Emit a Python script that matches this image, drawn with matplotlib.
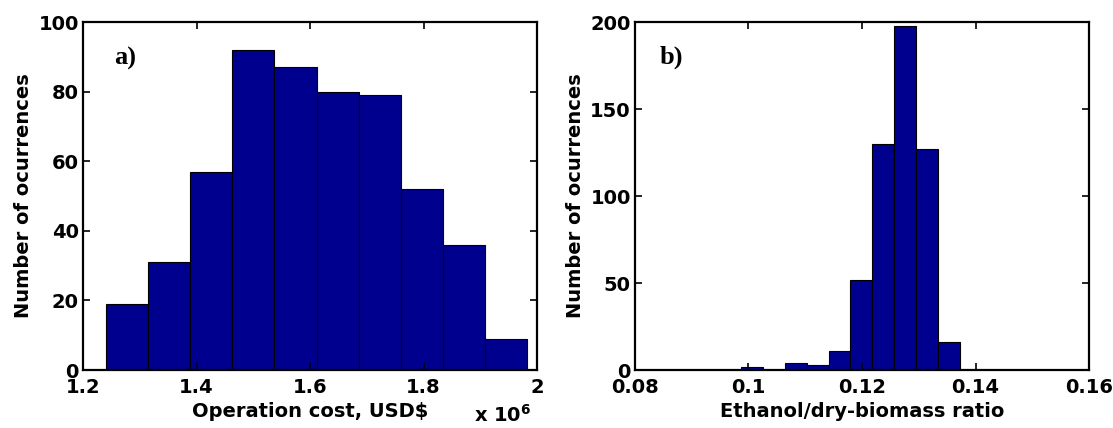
import numpy as np
import matplotlib
matplotlib.use("Agg")
import matplotlib.pyplot as plt

# a) operation cost histogram (x in units of 1e6 USD$)
cost_lo, cost_hi = 1.2405, 1.9825
cost_counts = [19, 31, 57, 92, 87, 80, 79, 52, 36, 9]

# b) ethanol / dry-biomass ratio histogram
ratio_lo, ratio_hi = 0.0987, 0.1372
ratio_counts = [2, 0, 4, 3, 11, 52, 130, 198, 127, 16]

plt.rcParams['font.family'] = ['DejaVu Sans']
plt.rcParams['font.weight'] = 'bold'
bar_color = '#00008F'
fs = 14

fig = plt.figure(figsize=(11.13, 4.28), dpi=100)
ax1 = fig.add_axes([0.0746, 0.1355, 0.408, 0.813])
ax2 = fig.add_axes([0.5705, 0.1355, 0.408, 0.813])


def draw_hist(ax, lo, hi, counts):
    edges = np.linspace(lo, hi, len(counts) + 1)
    ax.bar(edges[:-1], counts, width=np.diff(edges), align='edge',
           color=bar_color, edgecolor='black', linewidth=0.8)
    ax.tick_params(direction='in', top=True, right=True, length=5,
                   width=1.2, labelsize=fs)
    ax.tick_params(axis='x', pad=6)
    ax.tick_params(axis='y', pad=3)
    for s in ax.spines.values():
        s.set_linewidth(1.6)
    ax.set_ylabel('Number of ocurrences', fontsize=fs, fontweight='bold',
                  labelpad=4)


draw_hist(ax1, cost_lo, cost_hi, cost_counts)
ax1.set_xlim(1.2, 2.0)
ax1.set_ylim(0, 100)
ax1.set_xticks([1.2, 1.4, 1.6, 1.8, 2.0])
ax1.set_xticklabels(['1.2', '1.4', '1.6', '1.8', '2'])
ax1.set_yticks([0, 20, 40, 60, 80, 100])
ax1.set_xlabel('Operation cost, USD$', fontsize=fs, fontweight='bold',
               labelpad=3)
ax1.text(0.925, -0.128, r'x 10$^{\mathbf{6}}$', transform=ax1.transAxes,
         ha='center', va='center', fontsize=fs, fontweight='bold')
ax1.text(0.068, 0.895, 'a)', transform=ax1.transAxes, ha='left',
         va='center', fontsize=19, fontweight='bold',
         family='Liberation Serif')

draw_hist(ax2, ratio_lo, ratio_hi, ratio_counts)
ax2.set_xlim(0.08, 0.16)
ax2.set_ylim(0, 200)
ax2.set_xticks([0.08, 0.10, 0.12, 0.14, 0.16])
ax2.set_xticklabels(['0.08', '0.1', '0.12', '0.14', '0.16'])
ax2.set_yticks([0, 50, 100, 150, 200])
ax2.set_xlabel('Ethanol/dry-biomass ratio', fontsize=fs, fontweight='bold',
               labelpad=3)
ax2.text(0.055, 0.9, 'b)', transform=ax2.transAxes, ha='left',
         va='center', fontsize=19, fontweight='bold',
         family='Liberation Serif')

fig.savefig('out.png', dpi=100)
